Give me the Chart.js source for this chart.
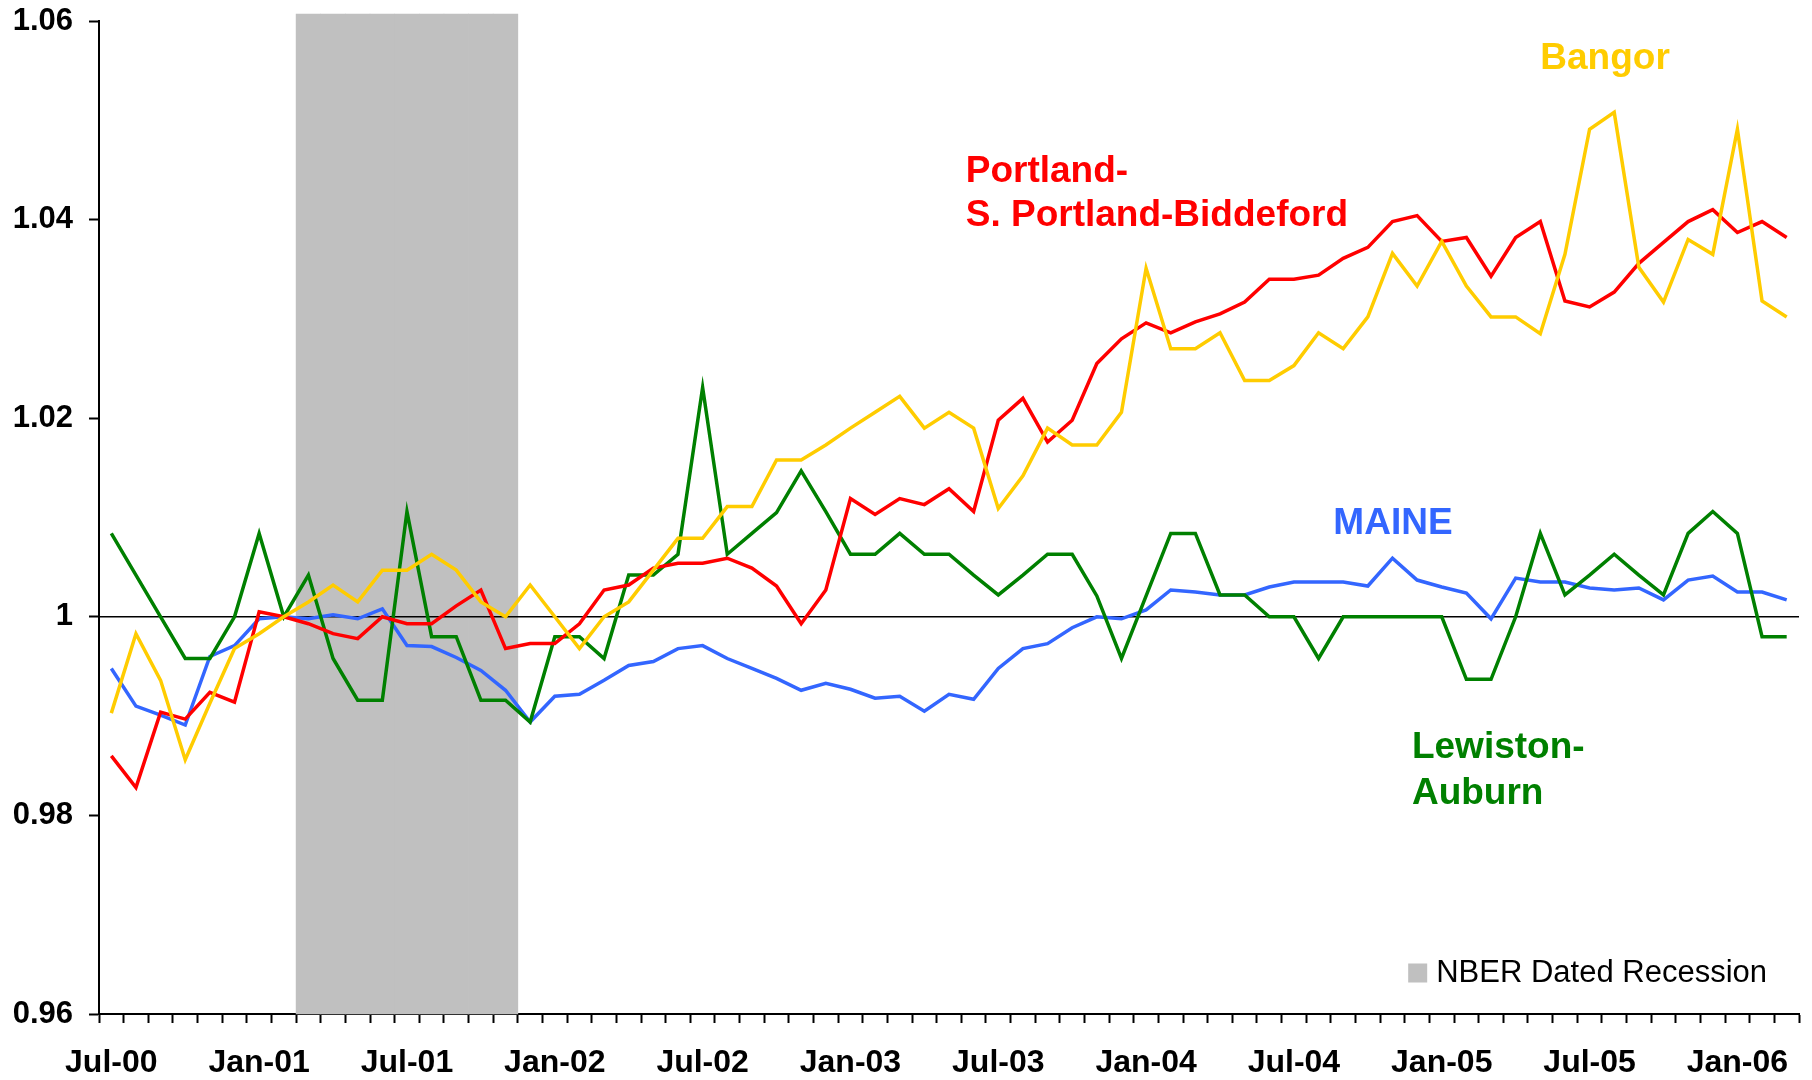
<!DOCTYPE html>
<html>
<head>
<meta charset="utf-8">
<script src="https://cdn.jsdelivr.net/npm/chart.js@4.4.0/dist/chart.umd.min.js"></script>
<style>
  html, body { margin: 0; padding: 0; background: #fff; }
  #wrap { width: 1812px; height: 1080px; }
</style>
</head>
<body>
<div id="wrap"><canvas id="myChart" width="1812" height="1080"></canvas></div>
<script>
const months = [
  "Jul-00", "Aug-00", "Sep-00", "Oct-00", "Nov-00", "Dec-00",
  "Jan-01", "Feb-01", "Mar-01", "Apr-01", "May-01", "Jun-01", "Jul-01", "Aug-01", "Sep-01", "Oct-01", "Nov-01", "Dec-01",
  "Jan-02", "Feb-02", "Mar-02", "Apr-02", "May-02", "Jun-02", "Jul-02", "Aug-02", "Sep-02", "Oct-02", "Nov-02", "Dec-02",
  "Jan-03", "Feb-03", "Mar-03", "Apr-03", "May-03", "Jun-03", "Jul-03", "Aug-03", "Sep-03", "Oct-03", "Nov-03", "Dec-03",
  "Jan-04", "Feb-04", "Mar-04", "Apr-04", "May-04", "Jun-04", "Jul-04", "Aug-04", "Sep-04", "Oct-04", "Nov-04", "Dec-04",
  "Jan-05", "Feb-05", "Mar-05", "Apr-05", "May-05", "Jun-05", "Jul-05", "Aug-05", "Sep-05", "Oct-05", "Nov-05", "Dec-05",
  "Jan-06", "Feb-06", "Mar-06",
];

const bangor = [
  0.9903, 0.9983, 0.9936, 0.9856, 0.9913, 0.9968,
  0.9983, 1.0, 1.0015, 1.0032, 1.0015, 1.0047, 1.0047, 1.0063, 1.0047, 1.0015, 1.0, 1.0032,
  1.0, 0.9968, 1.0, 1.0015, 1.0047, 1.0079, 1.0079, 1.0111, 1.0111, 1.0158, 1.0158, 1.0173,
  1.019, 1.0206, 1.0222, 1.019, 1.0206, 1.019, 1.0109, 1.0142, 1.019, 1.0173, 1.0173, 1.0206,
  1.0351, 1.027, 1.027, 1.0286, 1.0238, 1.0238, 1.0253, 1.0286, 1.027, 1.0302, 1.0366, 1.0333,
  1.0378, 1.0333, 1.0302, 1.0302, 1.0285, 1.0365, 1.0491, 1.0508, 1.0352, 1.0317, 1.038, 1.0365,
  1.0491, 1.0318, 1.0302,
];

const portland = [
  0.986, 0.9828, 0.9904, 0.9897, 0.9924, 0.9914,
  1.0005, 1.0, 0.9993, 0.9983, 0.9978, 1.0, 0.9993, 0.9993, 1.0011, 1.0027, 0.9968, 0.9973,
  0.9973, 0.9993, 1.0027, 1.0032, 1.0049, 1.0054, 1.0054, 1.0059, 1.0049, 1.0031, 0.9993, 1.0027,
  1.0119, 1.0103, 1.0119, 1.0113, 1.0129, 1.0106, 1.0198, 1.022, 1.0176, 1.0198, 1.0255, 1.028,
  1.0296, 1.0286, 1.0297, 1.0305, 1.0317, 1.034, 1.034, 1.0344, 1.0361, 1.0372, 1.0398, 1.0404,
  1.0378, 1.0382, 1.0343, 1.0382, 1.0398, 1.0318, 1.0312, 1.0327, 1.0356, 1.0377, 1.0398, 1.041,
  1.0387, 1.0398, 1.0382,
];

const lewiston = [
  1.0084, 1.0042, 1.0, 0.9958, 0.9958, 1.0,
  1.0084, 1.0, 1.0042, 0.9958, 0.9916, 0.9916, 1.0106, 0.998, 0.998, 0.9916, 0.9916, 0.9894,
  0.998, 0.998, 0.9958, 1.0042, 1.0042, 1.0063, 1.0231, 1.0063, 1.0084, 1.0105, 1.0147, 1.0106,
  1.0063, 1.0063, 1.0084, 1.0063, 1.0063, 1.0042, 1.0022, 1.0042, 1.0063, 1.0063, 1.0021, 0.9958,
  1.0021, 1.0084, 1.0084, 1.0022, 1.0022, 1.0, 1.0, 0.9958, 1.0, 1.0, 1.0, 1.0,
  1.0, 0.9937, 0.9937, 1.0, 1.0084, 1.0022, 1.0042, 1.0063, 1.0042, 1.0022, 1.0084, 1.0106,
  1.0084, 0.998, 0.998,
];

const maine = [
  0.9948, 0.991, 0.9901, 0.9891, 0.996, 0.9971,
  0.9998, 1.0, 0.9998, 1.0002, 0.9998, 1.0008, 0.9971, 0.997, 0.9959, 0.9946, 0.9926, 0.9894,
  0.992, 0.9922, 0.9936, 0.9951, 0.9955, 0.9968, 0.9971, 0.9958, 0.9948, 0.9938, 0.9926, 0.9933,
  0.9927, 0.9918, 0.992, 0.9905, 0.9922, 0.9917, 0.9948, 0.9968, 0.9973, 0.9989, 1.0, 0.9998,
  1.0007, 1.0027, 1.0025, 1.0022, 1.0022, 1.003, 1.0035, 1.0035, 1.0035, 1.0031, 1.0059, 1.0037,
  1.003, 1.0024, 0.9998, 1.0039, 1.0035, 1.0035, 1.0029, 1.0027, 1.0029, 1.0017, 1.0037, 1.0041,
  1.0025, 1.0025, 1.0017,
];

// NBER recession months (shaded from the axis floor to just above the top)
const recessionMonths = ["Mar-01", "Apr-01", "May-01", "Jun-01", "Jul-01", "Aug-01", "Sep-01", "Oct-01", "Nov-01"];
const recessionTop = 1.0607;

const yTicks = [0.96, 0.98, 1, 1.02, 1.04, 1.06];

const colors = {
  bangor: "#FFCC00",
  portland: "#FF0000",
  maine: "#3366FF",
  lewiston: "#008000",
  recession: "#C0C0C0",
};

const FONT = '"Liberation Sans", Arial, sans-serif';

// series names placed next to the lines, anchored in data units (category index, value)
const seriesLabels = [
  { text: "Bangor", color: colors.bangor, at: 58.0, value: 1.0562 },
  { text: "Portland-", color: colors.portland, at: 34.68, value: 1.0448 },
  { text: "S. Portland-Biddeford", color: colors.portland, at: 34.68, value: 1.0404 },
  { text: "MAINE", color: colors.maine, at: 49.6, value: 1.0094 },
  { text: "Lewiston-", color: colors.lewiston, at: 52.79, value: 0.9868 },
  { text: "Auburn", color: colors.lewiston, at: 52.79, value: 0.9822 },
];

const annotationPlugin = {
  id: "annotations",
  afterDatasetDraw(chart, args) {
    // the reference line at 1 sits on top of the shading, under the series
    if (args.meta.type !== "bar") return;
    const { ctx, chartArea, scales } = chart;
    const py = scales.y.getPixelForValue(1);
    ctx.save();
    ctx.strokeStyle = "#000";
    ctx.lineWidth = 1.5;
    ctx.beginPath();
    ctx.moveTo(chartArea.left, py);
    ctx.lineTo(chartArea.right, py);
    ctx.stroke();
    ctx.restore();
  },
  afterDraw(chart) {
    const { ctx, chartArea, scales } = chart;
    ctx.save();
    ctx.textBaseline = "middle";
    ctx.textAlign = "left";
    ctx.font = "bold 37px " + FONT;
    seriesLabels.forEach((l) => {
      ctx.fillStyle = l.color;
      ctx.fillText(l.text, scales.x.getPixelForValue(l.at), scales.y.getPixelForValue(l.value));
    });

    // legend entry for the shading only
    const legendText = "NBER Dated Recession";
    ctx.font = "31px " + FONT;
    const w = ctx.measureText(legendText).width;
    const tx = chartArea.right - 32 - w;
    const ty = chartArea.bottom - 41;
    ctx.fillStyle = colors.recession;
    ctx.fillRect(tx - 28, ty - 9.5, 19, 19);
    ctx.fillStyle = "#000";
    ctx.fillText(legendText, tx, ty);
    ctx.restore();
  },
};

function lineSet(label, data, color) {
  return {
    type: "line",
    label: label,
    data: data,
    borderColor: color,
    backgroundColor: color,
    borderWidth: 3.5,
    pointRadius: 0,
    tension: 0,
    fill: false,
    order: 1,
  };
}

const ctx = document.getElementById("myChart").getContext("2d");
const myChart = new Chart(ctx, {
  data: {
    labels: months,
    datasets: [
      lineSet("Bangor", bangor, colors.bangor),
      lineSet("Portland-S. Portland-Biddeford", portland, colors.portland),
      lineSet("Lewiston-Auburn", lewiston, colors.lewiston),
      lineSet("MAINE", maine, colors.maine),
      {
        type: "bar",
        label: "NBER Dated Recession",
        data: months.map((m) => (recessionMonths.includes(m) ? [yTicks[0], recessionTop] : null)),
        backgroundColor: colors.recession,
        borderWidth: 0,
        barPercentage: 1,
        categoryPercentage: 1,
        clip: false,
        order: 10,
      },
    ],
  },
  options: {
    responsive: false,
    animation: false,
    devicePixelRatio: 1,
    layout: { padding: { top: 21, right: 13, left: 0, bottom: 0 } },
    plugins: {
      legend: { display: false },
      tooltip: { enabled: false },
    },
    scales: {
      x: {
        type: "category",
        offset: true,
        grid: {
          offset: true,
          drawOnChartArea: false,
          tickLength: 9,
          tickWidth: 2,
          tickColor: "#000",
        },
        border: { color: "#000", width: 2 },
        ticks: {
          autoSkip: false,
          maxRotation: 0,
          color: "#000",
          padding: 21,
          font: { family: FONT, size: 32, weight: "bold" },
          callback: (value, index) => (index % 6 === 0 ? months[index] : ""),
        },
        afterFit: (scale) => {
          scale.height = 66;
          scale.paddingLeft = 0;
          scale.paddingRight = 0;
        },
      },
      y: {
        min: yTicks[0],
        max: yTicks[yTicks.length - 1],
        grid: {
          drawOnChartArea: false,
          tickLength: 10,
          tickWidth: 2,
          tickColor: "#000",
        },
        border: { color: "#000", width: 2 },
        afterBuildTicks: (scale) => {
          scale.ticks = yTicks.map((v) => ({ value: v }));
        },
        ticks: {
          color: "#000",
          padding: 16,
          font: { family: FONT, size: 31, weight: "bold" },
          callback: (value) => String(Number(value.toFixed(2))),
        },
        afterFit: (scale) => {
          scale.width = 99;
          scale.paddingTop = 0;
          scale.paddingBottom = 0;
        },
      },
    },
  },
  plugins: [annotationPlugin],
});
</script>
</body>
</html>
